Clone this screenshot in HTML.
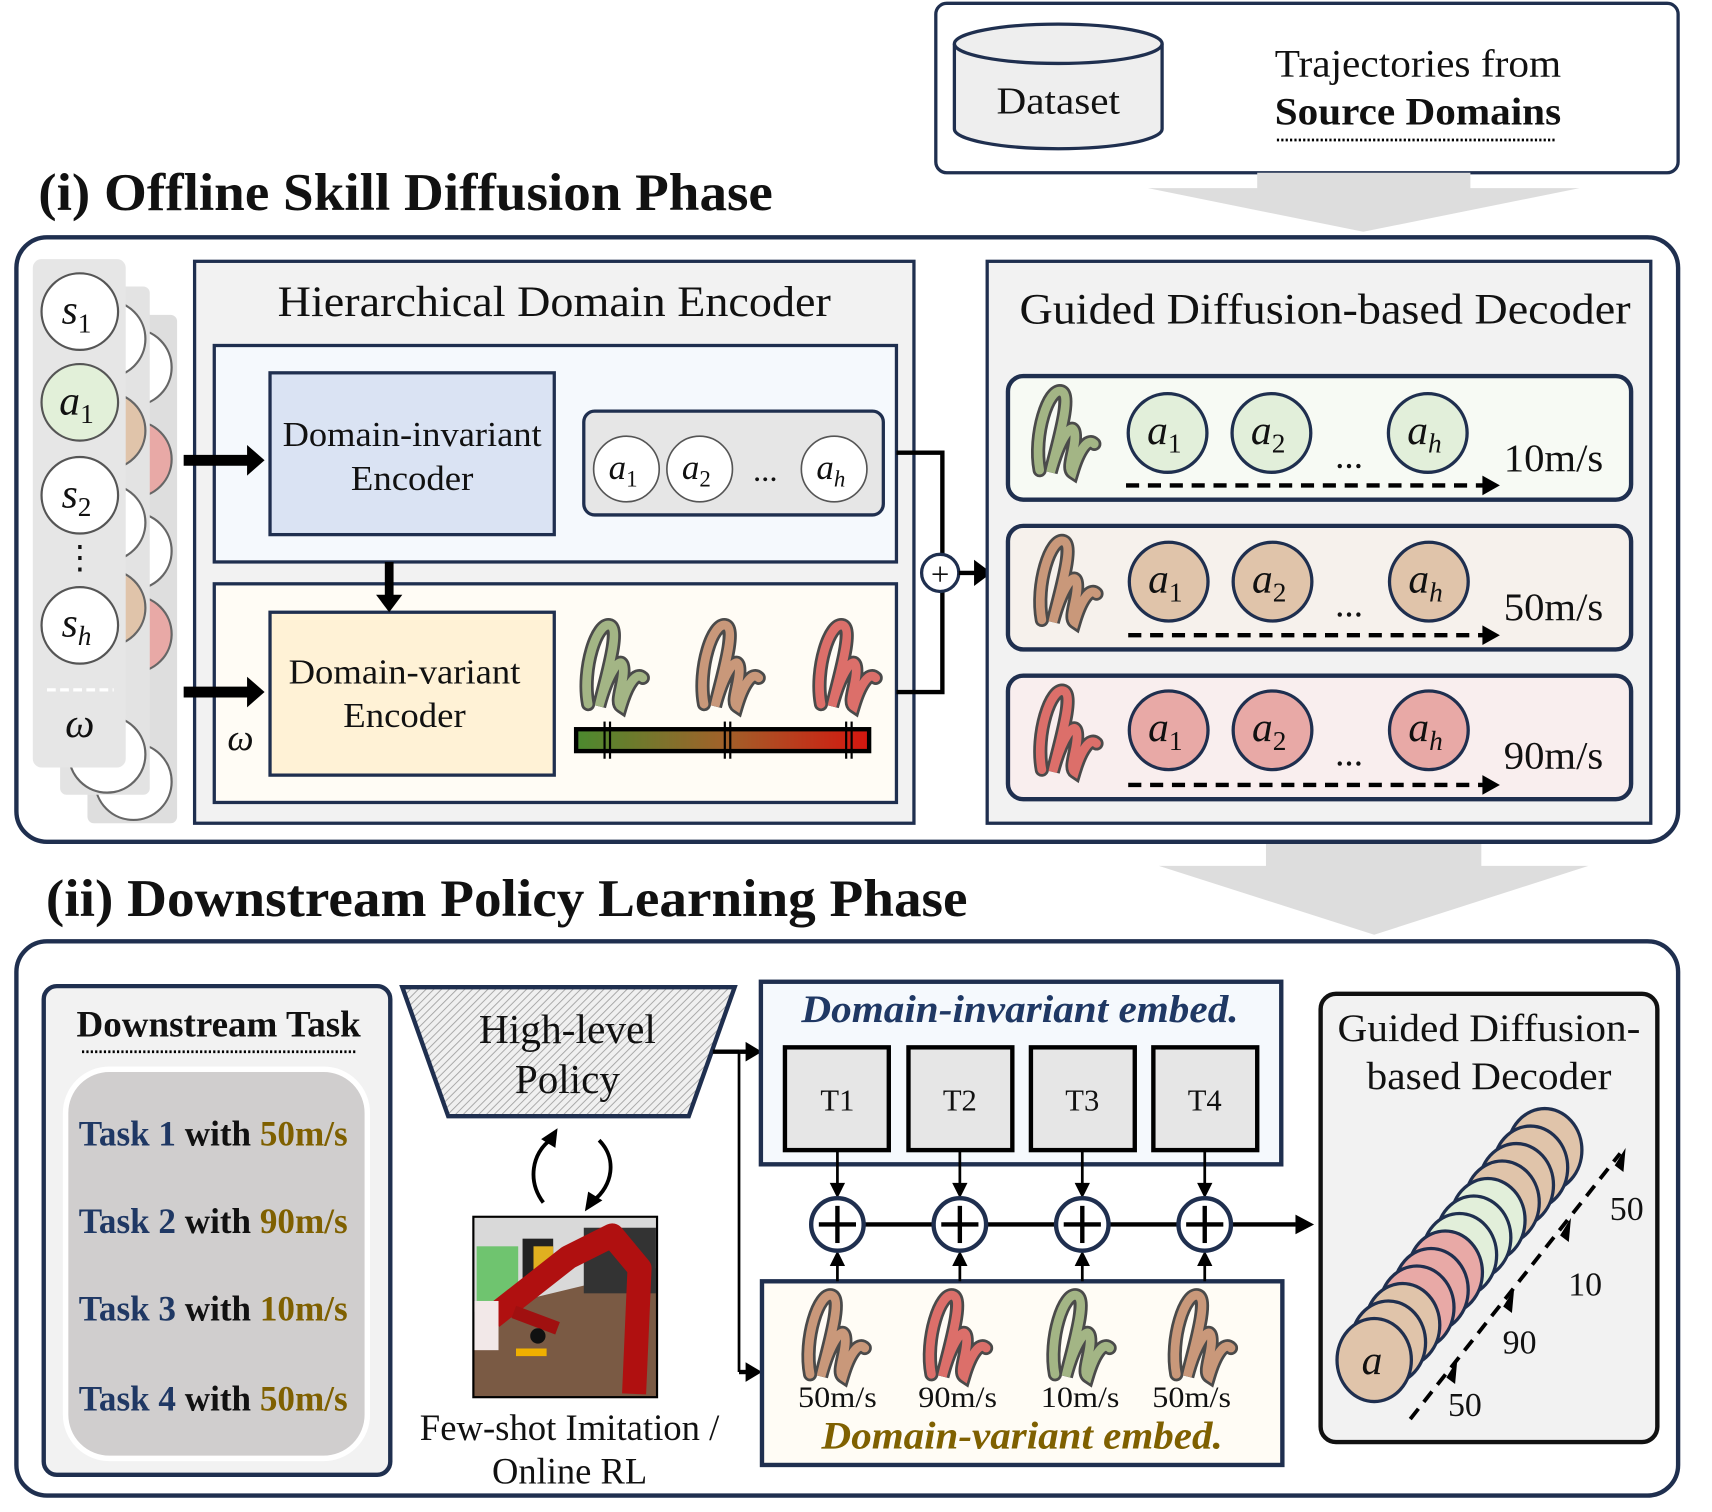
<!DOCTYPE html>
<html><head><meta charset="utf-8"><style>
html,body{margin:0;padding:0;background:#fff;}
svg{display:block;}
text{font-family:"Liberation Serif",serif;fill:#111;}
</style></head><body>
<svg width="1712" height="1512" viewBox="0 0 1566 1383" xmlns="http://www.w3.org/2000/svg">
<defs>
<pattern id="hatch" width="5" height="5" patternUnits="userSpaceOnUse" patternTransform="rotate(45)">
<rect width="5" height="5" fill="#f0f0f0"/><line x1="0" y1="0" x2="0" y2="5" stroke="#a0a0a0" stroke-width="1.6"/></pattern>
<linearGradient id="grad" x1="0" x2="1"><stop offset="0" stop-color="#4b8a2e"/><stop offset="0.5" stop-color="#a0622a"/><stop offset="1" stop-color="#d4160f"/></linearGradient>
<g id="sq">
<path d="M-24,32 C-30,0 -16,-44 -4,-40 C6,-36 -8,8 -14,34 C-6,4 6,-14 8,-2 C10,10 0,30 6,34 C12,14 20,2 26,8" fill="none" stroke="#4a4a4a" stroke-width="13" stroke-linecap="round"/>
<path d="M-24,32 C-30,0 -16,-44 -4,-40 C6,-36 -8,8 -14,34 C-6,4 6,-14 8,-2 C10,10 0,30 6,34 C12,14 20,2 26,8" fill="none" stroke="currentColor" stroke-width="8" stroke-linecap="round"/>
</g>
</defs>

<!-- top dataset box -->
<rect x="856" y="3" width="679" height="155" rx="10" fill="#fff" stroke="#1f2f4f" stroke-width="3"/>
<path d="M873,40 L873,118 A95,18 0 0 0 1063,118 L1063,40" fill="#eeeeee" stroke="#1f2f4f" stroke-width="3"/>
<ellipse cx="968" cy="40" rx="95" ry="18" fill="#eeeeee" stroke="#1f2f4f" stroke-width="3"/>
<text x="968" y="104" font-size="35" text-anchor="middle" textLength="113" lengthAdjust="spacingAndGlyphs">Dataset</text>
<text x="1297" y="70" font-size="36" text-anchor="middle" textLength="262" lengthAdjust="spacingAndGlyphs">Trajectories from</text>
<text x="1297" y="114" font-size="36" font-weight="bold" text-anchor="middle" textLength="262" lengthAdjust="spacingAndGlyphs">Source Domains</text>
<line x1="1168" y1="128" x2="1424" y2="128" stroke="#000" stroke-width="2.5" stroke-dasharray="2,2"/>
<path d="M1150,158 L1345,158 L1345,172 L1445,172 L1247,212 L1050,172 L1150,172 Z" fill="#dddddd"/>

<text x="35" y="192" font-size="48" font-weight="bold" textLength="672" lengthAdjust="spacingAndGlyphs">(i) Offline Skill Diffusion Phase</text>

<!-- panel 1 -->
<rect x="15" y="217" width="1520" height="553" rx="28" fill="#fff" stroke="#1f2f4f" stroke-width="4"/>
<path d="M1158,772 L1355,772 L1355,792 L1453,792 L1257,855 L1060,792 L1158,792 Z" fill="#dddddd"/>

<!-- left stack -->
<rect x="80" y="288" width="82" height="465" rx="6" fill="#dedede"/>
<g stroke="#666" stroke-width="2">
<circle cx="122" cy="336" r="35" fill="#fff"/><circle cx="122" cy="420" r="35" fill="#e8a9a6"/><circle cx="122" cy="504" r="35" fill="#fff"/><circle cx="122" cy="580" r="35" fill="#e8a9a6"/><circle cx="122" cy="715" r="35" fill="#fff"/></g>
<rect x="55" y="262" width="82" height="465" rx="6" fill="#e3e3e3"/>
<g stroke="#666" stroke-width="2">
<circle cx="98" cy="310" r="35" fill="#fff"/><circle cx="98" cy="394" r="35" fill="#e0c4aa"/><circle cx="98" cy="478" r="35" fill="#fff"/><circle cx="98" cy="556" r="35" fill="#e0c4aa"/><circle cx="98" cy="690" r="35" fill="#fff"/></g>
<rect x="30" y="237" width="85" height="465" rx="8" fill="#e6e6e6"/>
<g stroke="#555" stroke-width="2">
<circle cx="73" cy="285" r="35" fill="#fff"/><circle cx="73" cy="368" r="35" fill="#e2f0d9"/><circle cx="73" cy="453" r="35" fill="#fff"/><circle cx="73" cy="572" r="35" fill="#fff"/></g>
<g font-size="38" font-style="italic" text-anchor="middle">
<text x="70" y="296">s<tspan font-size="25" font-style="normal" dy="8">1</tspan></text>
<text x="70" y="379">a<tspan font-size="25" font-style="normal" dy="8">1</tspan></text>
<text x="70" y="464">s<tspan font-size="25" font-style="normal" dy="8">2</tspan></text>
<text x="70" y="582">s<tspan font-size="25" dy="8">h</tspan></text>
<text x="73" y="674">ω</text></g>
<text x="73" y="520" font-size="30" text-anchor="middle">⋮</text>
<line x1="43" y1="631" x2="104" y2="631" stroke="#fff" stroke-width="3" stroke-dasharray="8,4"/>

<!-- HDE -->
<rect x="178" y="239" width="658" height="514" fill="#f2f2f2" stroke="#1f2f4f" stroke-width="3"/>
<text x="507" y="289" font-size="40" text-anchor="middle" textLength="506" lengthAdjust="spacingAndGlyphs">Hierarchical Domain Encoder</text>
<rect x="196" y="316" width="624" height="198" fill="#f5f9fd" stroke="#1f2f4f" stroke-width="3"/>
<rect x="247" y="341" width="260" height="148" fill="#dae3f3" stroke="#1f2f4f" stroke-width="3"/>
<text x="377" y="408" font-size="32" text-anchor="middle" textLength="237" lengthAdjust="spacingAndGlyphs">Domain-invariant</text>
<text x="377" y="448" font-size="32" text-anchor="middle" textLength="112" lengthAdjust="spacingAndGlyphs">Encoder</text>
<rect x="534" y="376" width="274" height="95" rx="10" fill="#e6e6e6" stroke="#1f2f4f" stroke-width="3"/>
<g stroke="#555" stroke-width="1.5" fill="#fff"><circle cx="573" cy="429" r="30"/><circle cx="640" cy="429" r="30"/><circle cx="763" cy="429" r="30"/></g>
<g font-size="32" font-style="italic" text-anchor="middle">
<text x="570" y="438">a<tspan font-size="21" font-style="normal" dy="7">1</tspan></text>
<text x="637" y="438">a<tspan font-size="21" font-style="normal" dy="7">2</tspan></text>
<text x="760" y="438">a<tspan font-size="21" dy="7">h</tspan></text></g>
<text x="700" y="440" font-size="30" text-anchor="middle">...</text>
<rect x="196" y="534" width="624" height="200" fill="#fffcf5" stroke="#1f2f4f" stroke-width="3"/>
<rect x="247" y="560" width="260" height="149" fill="#fff2d6" stroke="#1f2f4f" stroke-width="3"/>
<text x="370" y="625" font-size="32" text-anchor="middle" textLength="212" lengthAdjust="spacingAndGlyphs">Domain-variant</text>
<text x="370" y="665" font-size="32" text-anchor="middle" textLength="112" lengthAdjust="spacingAndGlyphs">Encoder</text>
<text x="220" y="686" font-size="34" font-style="italic" text-anchor="middle">ω</text>
<use href="#sq" x="562" y="612" color="#a3b585"/>
<use href="#sq" x="668" y="612" color="#c9987a"/>
<use href="#sq" x="775" y="612" color="#dc6f6a"/>
<rect x="527" y="667" width="268" height="20" fill="url(#grad)" stroke="#000" stroke-width="4"/>
<g stroke="#000" stroke-width="2"><line x1="553" y1="660" x2="553" y2="694"/><line x1="558" y1="660" x2="558" y2="694"/><line x1="663" y1="660" x2="663" y2="694"/><line x1="668" y1="660" x2="668" y2="694"/><line x1="774" y1="660" x2="774" y2="694"/><line x1="779" y1="660" x2="779" y2="694"/></g>

<!-- arrows over HDE -->
<line x1="168" y1="421" x2="228" y2="421" stroke="#000" stroke-width="10"/><path d="M226,407 L242,421 L226,435 Z" fill="#000"/>
<line x1="168" y1="633" x2="228" y2="633" stroke="#000" stroke-width="10"/><path d="M226,619 L242,633 L226,647 Z" fill="#000"/>
<line x1="356" y1="514" x2="356" y2="546" stroke="#000" stroke-width="8"/><path d="M344,544 L356,560 L368,544 Z" fill="#000"/>

<polyline points="820,414 862,414 862,633 820,633" fill="none" stroke="#000" stroke-width="4"/>
<circle cx="860" cy="524" r="17" fill="#fff" stroke="#1f2f4f" stroke-width="3"/>
<text x="860" y="535" font-size="30" text-anchor="middle">+</text>
<line x1="877" y1="524" x2="893" y2="524" stroke="#000" stroke-width="4"/><path d="M891,512 L907,524 L891,536 Z" fill="#000"/>

<!-- decoder -->
<rect x="903" y="239" width="607" height="514" fill="#f2f2f2" stroke="#1f2f4f" stroke-width="3"/>
<text x="1212" y="296" font-size="40" text-anchor="middle" textLength="559" lengthAdjust="spacingAndGlyphs">Guided Diffusion-based Decoder</text>
<g>
<rect x="922" y="344" width="570" height="113" rx="14" fill="#f7faf4" stroke="#1f2f4f" stroke-width="4"/>
<rect x="922" y="481" width="570" height="113" rx="14" fill="#f6f1ec" stroke="#1f2f4f" stroke-width="4"/>
<rect x="922" y="618" width="570" height="113" rx="14" fill="#f9eeee" stroke="#1f2f4f" stroke-width="4"/>
</g>
<use href="#sq" x="975" y="398" color="#a3b585"/>
<use href="#sq" x="977" y="535" color="#c9987a"/>
<use href="#sq" x="977" y="672" color="#dc6f6a"/>
<g stroke="#1f2f4f" stroke-width="3">
<circle cx="1068" cy="396" r="36" fill="#e2efda"/><circle cx="1163" cy="396" r="36" fill="#e2efda"/><circle cx="1306" cy="396" r="36" fill="#e2efda"/>
<circle cx="1069" cy="532" r="36" fill="#e0c4aa"/><circle cx="1164" cy="532" r="36" fill="#e0c4aa"/><circle cx="1307" cy="532" r="36" fill="#e0c4aa"/>
<circle cx="1069" cy="668" r="36" fill="#e8a9a6"/><circle cx="1164" cy="668" r="36" fill="#e8a9a6"/><circle cx="1307" cy="668" r="36" fill="#e8a9a6"/></g>
<g font-size="38" font-style="italic" text-anchor="middle">
<text x="1065" y="406">a<tspan font-size="25" font-style="normal" dy="8">1</tspan></text><text x="1160" y="406">a<tspan font-size="25" font-style="normal" dy="8">2</tspan></text><text x="1303" y="406">a<tspan font-size="25" dy="8">h</tspan></text>
<text x="1066" y="542">a<tspan font-size="25" font-style="normal" dy="8">1</tspan></text><text x="1161" y="542">a<tspan font-size="25" font-style="normal" dy="8">2</tspan></text><text x="1304" y="542">a<tspan font-size="25" dy="8">h</tspan></text>
<text x="1066" y="678">a<tspan font-size="25" font-style="normal" dy="8">1</tspan></text><text x="1161" y="678">a<tspan font-size="25" font-style="normal" dy="8">2</tspan></text><text x="1304" y="678">a<tspan font-size="25" dy="8">h</tspan></text></g>
<g font-size="34" text-anchor="middle"><text x="1234" y="428">...</text><text x="1234" y="564">...</text><text x="1234" y="700">...</text></g>
<g font-size="36" text-anchor="middle"><text x="1421" y="431" textLength="91" lengthAdjust="spacingAndGlyphs">10m/s</text><text x="1421" y="567" textLength="91" lengthAdjust="spacingAndGlyphs">50m/s</text><text x="1421" y="703" textLength="91" lengthAdjust="spacingAndGlyphs">90m/s</text></g>
<g stroke="#000" stroke-width="4" stroke-dasharray="12,8">
<line x1="1030" y1="444" x2="1358" y2="444"/><line x1="1032" y1="581" x2="1358" y2="581"/><line x1="1032" y1="718" x2="1358" y2="718"/></g>
<g fill="#000"><path d="M1356,435 L1372,444 L1356,453 Z"/><path d="M1356,572 L1372,581 L1356,590 Z"/><path d="M1356,709 L1372,718 L1356,727 Z"/></g>

<text x="42" y="838" font-size="48" font-weight="bold" textLength="843" lengthAdjust="spacingAndGlyphs">(ii) Downstream Policy Learning Phase</text>

<!-- panel 2 -->
<rect x="15" y="861" width="1520" height="507" rx="28" fill="#fff" stroke="#1f2f4f" stroke-width="4"/>
<rect x="40" y="902" width="317" height="447" rx="12" fill="#f2f2f2" stroke="#1f2f4f" stroke-width="4"/>
<text x="200" y="948" font-size="34" font-weight="bold" text-anchor="middle" textLength="260" lengthAdjust="spacingAndGlyphs">Downstream Task</text>
<line x1="75" y1="962" x2="325" y2="962" stroke="#000" stroke-width="2.5" stroke-dasharray="2,2"/>
<rect x="60" y="978" width="276" height="356" rx="40" fill="#d0cece" stroke="#fff" stroke-width="5"/>
<g font-size="33" font-weight="bold">
<text x="72" y="1048" textLength="246" lengthAdjust="spacingAndGlyphs"><tspan fill="#1f3864">Task 1</tspan> with <tspan fill="#7f6000">50m/s</tspan></text>
<text x="72" y="1128" textLength="246" lengthAdjust="spacingAndGlyphs"><tspan fill="#1f3864">Task 2</tspan> with <tspan fill="#7f6000">90m/s</tspan></text>
<text x="72" y="1208" textLength="246" lengthAdjust="spacingAndGlyphs"><tspan fill="#1f3864">Task 3</tspan> with <tspan fill="#7f6000">10m/s</tspan></text>
<text x="72" y="1290" textLength="246" lengthAdjust="spacingAndGlyphs"><tspan fill="#1f3864">Task 4</tspan> with <tspan fill="#7f6000">50m/s</tspan></text></g>

<polygon points="368,903 672,903 630,1021 410,1021" fill="url(#hatch)" stroke="#1f2f4f" stroke-width="4"/>
<text x="519" y="954" font-size="38" text-anchor="middle" textLength="162" lengthAdjust="spacingAndGlyphs">High-level</text>
<text x="519" y="1000" font-size="38" text-anchor="middle" textLength="96" lengthAdjust="spacingAndGlyphs">Policy</text>
<path d="M497,1100 C482,1080 487,1055 503,1043" fill="none" stroke="#000" stroke-width="3.5"/>
<path d="M495,1042 L510,1032 L508,1050 Z" fill="#000"/>
<path d="M548,1043 C565,1060 560,1085 543,1098" fill="none" stroke="#000" stroke-width="3.5"/>
<path d="M551,1098 L535,1108 L538,1090 Z" fill="#000"/>
<!-- robot image -->
<rect x="433" y="1113" width="168" height="165" fill="#7a5a44" stroke="#000" stroke-width="2"/>
<polygon points="434,1114 600,1114 600,1160 434,1200" fill="#d9d9d9"/>
<rect x="436" y="1140" width="38" height="50" fill="#6fc46f"/>
<rect x="478" y="1133" width="28" height="38" fill="#222"/><rect x="488" y="1140" width="18" height="30" fill="#e0b020"/>
<rect x="534" y="1123" width="66" height="60" fill="#333"/>
<path d="M450,1205 L520,1150 L560,1130 L585,1160 L580,1275" fill="none" stroke="#b01010" stroke-width="22" stroke-linejoin="round"/>
<path d="M470,1200 L510,1215" stroke="#a01010" stroke-width="12"/>
<rect x="434" y="1190" width="22" height="45" fill="#f2e8e8"/>
<circle cx="492" cy="1222" r="7" fill="#111"/>
<path d="M472,1237 L500,1237" stroke="#f0b000" stroke-width="7"/>
<text x="521" y="1317" font-size="34" text-anchor="middle" textLength="274" lengthAdjust="spacingAndGlyphs">Few-shot Imitation /</text>
<text x="521" y="1357" font-size="34" text-anchor="middle" textLength="142" lengthAdjust="spacingAndGlyphs">Online RL</text>

<polyline points="652,962 676,962" fill="none" stroke="#000" stroke-width="4"/>
<line x1="676" y1="962" x2="676" y2="1255" stroke="#000" stroke-width="2.5"/>
<line x1="676" y1="962" x2="684" y2="962" stroke="#000" stroke-width="4"/><path d="M682,953 L697,962 L682,971 Z" fill="#000"/>
<line x1="676" y1="1255" x2="684" y2="1255" stroke="#000" stroke-width="4"/><path d="M682,1246 L697,1255 L682,1264 Z" fill="#000"/>

<rect x="696" y="898" width="476" height="167" fill="#f5f9fd" stroke="#1f2f4f" stroke-width="4"/>
<text x="933" y="935" font-size="36" font-style="italic" font-weight="bold" text-anchor="middle" style="fill:#1f3864" textLength="400" lengthAdjust="spacingAndGlyphs">Domain-invariant embed.</text>
<g fill="#e6e6e6" stroke="#000" stroke-width="4">
<rect x="718" y="958" width="95" height="94"/><rect x="831" y="958" width="95" height="94"/><rect x="943" y="958" width="95" height="94"/><rect x="1055" y="958" width="95" height="94"/></g>
<g font-size="28" text-anchor="middle"><text x="766" y="1016">T1</text><text x="878" y="1016">T2</text><text x="990" y="1016">T3</text><text x="1102" y="1016">T4</text></g>

<rect x="697" y="1172" width="476" height="168" fill="#fffcf5" stroke="#1f2f4f" stroke-width="4"/>
<use href="#sq" x="765" y="1225" color="#c9987a"/>
<use href="#sq" x="876" y="1225" color="#dc6f6a"/>
<use href="#sq" x="989" y="1225" color="#a3b585"/>
<use href="#sq" x="1100" y="1225" color="#c9987a"/>
<g font-size="27" text-anchor="middle"><text x="766" y="1287" textLength="72" lengthAdjust="spacingAndGlyphs">50m/s</text><text x="876" y="1287" textLength="72" lengthAdjust="spacingAndGlyphs">90m/s</text><text x="988" y="1287" textLength="72" lengthAdjust="spacingAndGlyphs">10m/s</text><text x="1090" y="1287" textLength="72" lengthAdjust="spacingAndGlyphs">50m/s</text></g>
<text x="935" y="1325" font-size="36" font-style="italic" font-weight="bold" text-anchor="middle" style="fill:#7f6000" textLength="367" lengthAdjust="spacingAndGlyphs">Domain-variant embed.</text>

<line x1="790" y1="1120" x2="1185" y2="1120" stroke="#000" stroke-width="4"/>
<path d="M1185,1111 L1202,1120 L1185,1129 Z" fill="#000"/>
<g stroke="#000" stroke-width="2.5">
<line x1="766" y1="1052" x2="766" y2="1086"/><line x1="878" y1="1052" x2="878" y2="1086"/><line x1="990" y1="1052" x2="990" y2="1086"/><line x1="1102" y1="1052" x2="1102" y2="1086"/>
<line x1="766" y1="1172" x2="766" y2="1156"/><line x1="878" y1="1172" x2="878" y2="1156"/><line x1="990" y1="1172" x2="990" y2="1156"/><line x1="1102" y1="1172" x2="1102" y2="1156"/></g>
<g fill="#000">
<path d="M759,1082 L766,1096 L773,1082Z"/><path d="M871,1082 L878,1096 L885,1082Z"/><path d="M983,1082 L990,1096 L997,1082Z"/><path d="M1095,1082 L1102,1096 L1109,1082Z"/>
<path d="M759,1158 L766,1144 L773,1158Z"/><path d="M871,1158 L878,1144 L885,1158Z"/><path d="M983,1158 L990,1144 L997,1158Z"/><path d="M1095,1158 L1102,1144 L1109,1158Z"/></g>
<g fill="#fff" stroke="#1f2f4f" stroke-width="4">
<circle cx="766" cy="1120" r="24"/><circle cx="878" cy="1120" r="24"/><circle cx="990" cy="1120" r="24"/><circle cx="1102" cy="1120" r="24"/></g>
<g stroke="#000" stroke-width="4">
<line x1="749" y1="1120" x2="783" y2="1120"/><line x1="766" y1="1103" x2="766" y2="1137"/>
<line x1="861" y1="1120" x2="895" y2="1120"/><line x1="878" y1="1103" x2="878" y2="1137"/>
<line x1="973" y1="1120" x2="1007" y2="1120"/><line x1="990" y1="1103" x2="990" y2="1137"/>
<line x1="1085" y1="1120" x2="1119" y2="1120"/><line x1="1102" y1="1103" x2="1102" y2="1137"/></g>

<!-- right decoder -->
<rect x="1208" y="909" width="308" height="410" rx="14" fill="#f2f2f2" stroke="#111" stroke-width="4"/>
<text x="1362" y="952" font-size="36" text-anchor="middle" textLength="277" lengthAdjust="spacingAndGlyphs">Guided Diffusion-</text>
<text x="1362" y="996" font-size="36" text-anchor="middle" textLength="224" lengthAdjust="spacingAndGlyphs">based Decoder</text>
<g stroke="#1f2f4f" stroke-width="3">
<ellipse cx="1413" cy="1052" rx="34" ry="38" fill="#e0c4aa"/>
<ellipse cx="1400" cy="1068" rx="34" ry="38" fill="#e0c4aa"/>
<ellipse cx="1387" cy="1084" rx="34" ry="38" fill="#e0c4aa"/>
<ellipse cx="1374" cy="1100" rx="34" ry="38" fill="#e0c4aa"/>
<ellipse cx="1361" cy="1116" rx="34" ry="38" fill="#e2efda"/>
<ellipse cx="1348" cy="1132" rx="34" ry="38" fill="#e2efda"/>
<ellipse cx="1335" cy="1148" rx="34" ry="38" fill="#e2efda"/>
<ellipse cx="1322" cy="1164" rx="34" ry="38" fill="#e8a9a6"/>
<ellipse cx="1309" cy="1180" rx="34" ry="38" fill="#e8a9a6"/>
<ellipse cx="1296" cy="1196" rx="34" ry="38" fill="#e8a9a6"/>
<ellipse cx="1283" cy="1212" rx="34" ry="38" fill="#e0c4aa"/>
<ellipse cx="1270" cy="1228" rx="34" ry="38" fill="#e0c4aa"/>
<ellipse cx="1257" cy="1244" rx="34" ry="38" fill="#e0c4aa"/></g>
<text x="1255" y="1257" font-size="38" font-style="italic" text-anchor="middle">a</text>
<line x1="1290" y1="1298" x2="1482" y2="1055" stroke="#000" stroke-width="3.5" stroke-dasharray="12,8"/>
<g fill="#000">
<path d="M1477,1066 L1487,1050 L1485,1072 Z"/>
<path d="M1427,1130 L1437,1114 L1435,1136 Z"/>
<path d="M1375,1195 L1385,1179 L1383,1201 Z"/>
<path d="M1323,1260 L1333,1244 L1331,1266 Z"/></g>
<g font-size="31" text-anchor="middle"><text x="1488" y="1116">50</text><text x="1450" y="1185">10</text><text x="1390" y="1238">90</text><text x="1340" y="1295">50</text></g>
</svg>
</body></html>
